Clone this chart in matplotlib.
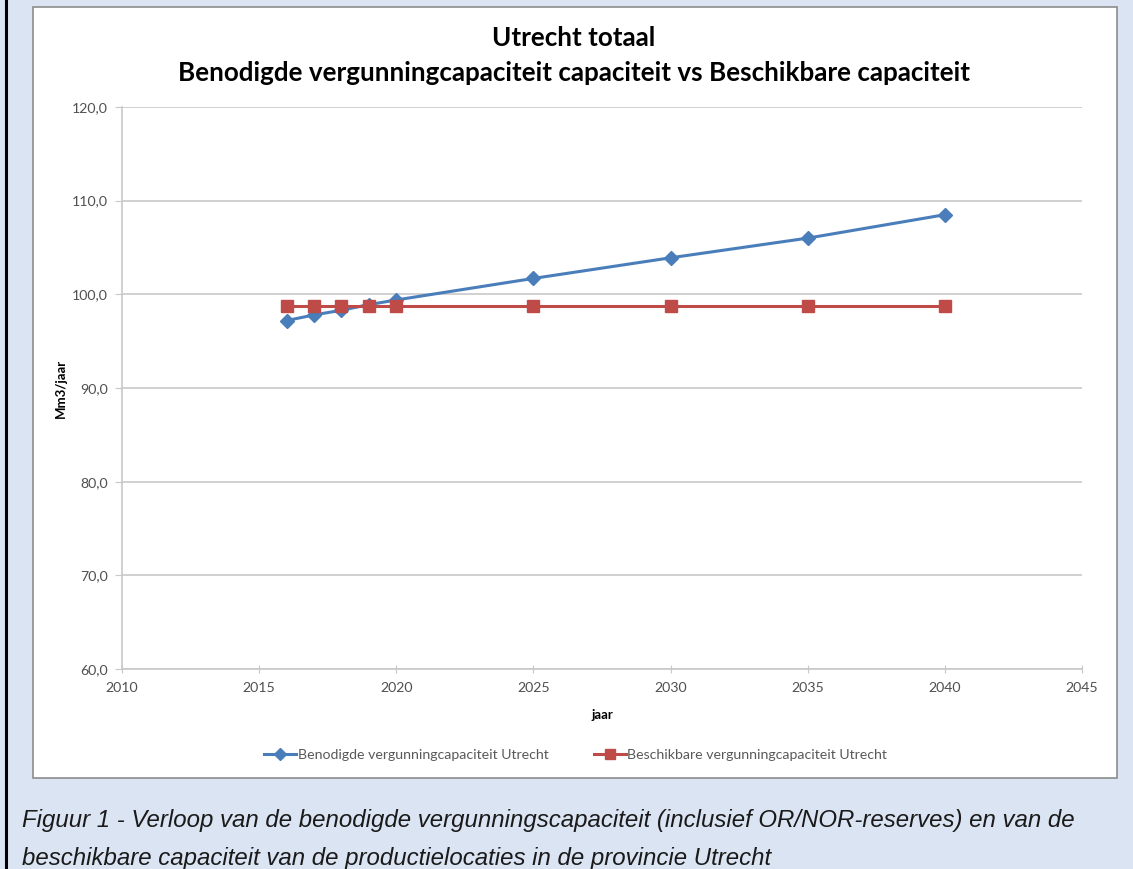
import matplotlib.pyplot as plt
from matplotlib.patches import Rectangle
from matplotlib.lines import Line2D
from matplotlib.ticker import FuncFormatter, MultipleLocator

years = [2016, 2017, 2018, 2019, 2020, 2025, 2030, 2035, 2040]
benodigd = [97.2, 97.8, 98.3, 98.9, 99.4, 101.7, 103.9, 106.0, 108.5]
beschikbaar = [98.8, 98.8, 98.8, 98.8, 98.8, 98.8, 98.8, 98.8, 98.8]

label_benodigd = "Benodigde vergunningcapaciteit Utrecht"
label_beschikbaar = "Beschikbare vergunningcapaciteit Utrecht"
title = "Utrecht totaal\nBenodigde vergunningcapaciteit capaciteit vs Beschikbare capaciteit"
caption = ("Figuur 1 - Verloop van de benodigde vergunningscapaciteit (inclusief OR/NOR-reserves) en van de\n"
           "beschikbare capaciteit van de productielocaties in de provincie Utrecht")

BLUE = "#4a7ebb"
RED = "#be4b48"
BG = "#dbe4f2"
TEXT = "#595959"

fig = plt.figure(figsize=(11.33, 8.69), dpi=100)
fig.patch.set_facecolor(BG)

# white chart frame behind the axes
fig.add_artist(Rectangle((0.0291, 0.1047), 0.9567, 0.8873, transform=fig.transFigure,
                         facecolor="white", edgecolor="#8c8c8c", linewidth=1.2, zorder=-5))
# black rule on the left
fig.add_artist(Line2D([0.005, 0.005], [0, 1], transform=fig.transFigure, color="black", linewidth=2.2))

ax = fig.add_axes([0.1077, 0.2301, 0.8473, 0.6468])
ax.set_zorder(2)
ax.set_facecolor("white")
ax.plot(years, benodigd, color=BLUE, linewidth=2.2, marker="D", markersize=7,
        label=label_benodigd, zorder=3)
ax.plot(years, beschikbaar, color=RED, linewidth=2.2, marker="s", markersize=9,
        label=label_beschikbaar, zorder=4)

ax.set_xlim(2010, 2045)
ax.set_ylim(60, 120)
ax.xaxis.set_major_locator(MultipleLocator(5))
ax.yaxis.set_major_locator(MultipleLocator(10))
ax.yaxis.set_major_formatter(FuncFormatter(lambda v, p: f"{v:.1f}".replace(".", ",")))
ax.grid(axis="y", color="#c8c8c8", linewidth=1.2)
ax.set_axisbelow(True)

for side in ["top", "right"]:
    ax.spines[side].set_visible(False)
for side in ["left", "bottom"]:
    ax.spines[side].set_color("#c8c8c8")
    ax.spines[side].set_linewidth(1.2)

ax.tick_params(axis="y", direction="out", length=5, color="#c8c8c8", labelsize=10.2,
               labelcolor="#505050", pad=5)
ax.tick_params(axis="x", direction="inout", length=6, color="#c8c8c8", labelsize=10.2,
               labelcolor="#505050", pad=6)
for lbl in ax.get_xticklabels() + ax.get_yticklabels():
    lbl.set_family("Lato")

ax.set_ylabel("Mm3/jaar", fontsize=9.5, fontweight="bold", family="Lato", labelpad=4)
ax.set_xlabel("jaar", fontsize=9.5, fontweight="bold", family="Lato", labelpad=11)

fig.text(0.5065, 0.970, title, ha="center", va="top", fontsize=18.7, fontweight="bold",
         family="Lato", linespacing=1.55)

fig.legend(loc="center", bbox_to_anchor=(0.508, 0.131), ncol=2, frameon=False,
           prop={"family": "Lato", "size": 10.2}, handlelength=2.25, handletextpad=0.1,
           columnspacing=3.2, labelcolor=TEXT, markerscale=0.85)

fig.text(0.019, 0.034, caption, ha="left", va="center", fontsize=17.3, style="italic",
         family="Liberation Sans", linespacing=1.85, color="#1a1a1a")

fig.savefig("out.png", dpi=100, facecolor=fig.get_facecolor())
